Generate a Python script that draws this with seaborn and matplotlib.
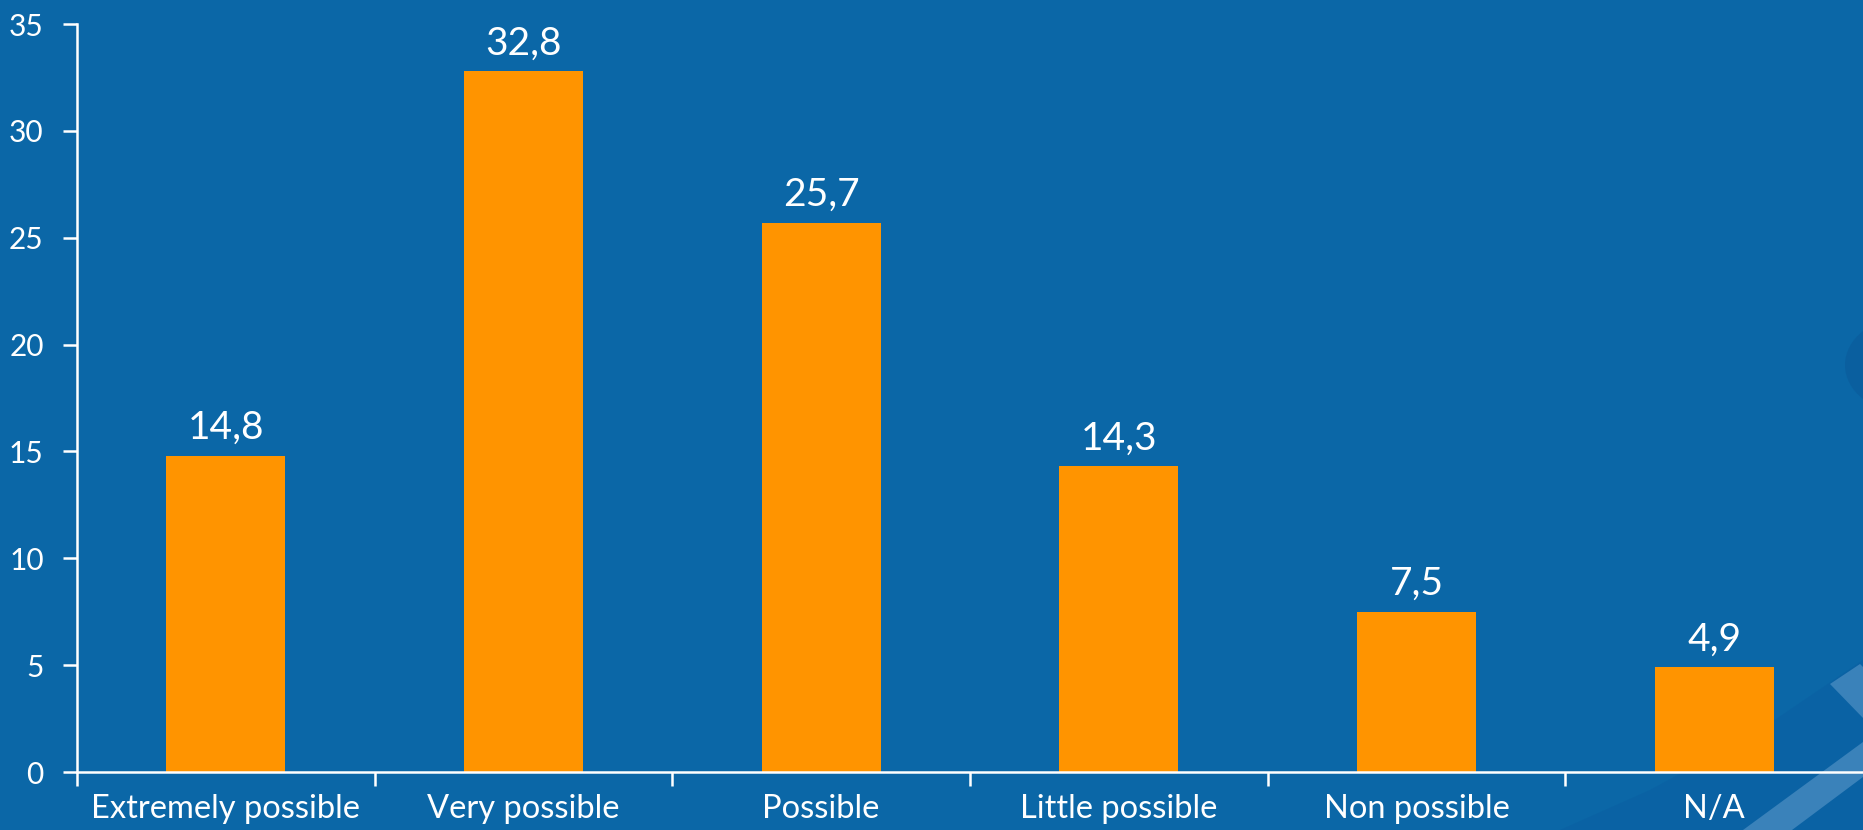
import matplotlib
matplotlib.use("Agg")
import matplotlib.pyplot as plt
import seaborn as sns
import pandas as pd
from matplotlib.patches import Ellipse, Polygon

categories = ["Extremely possible", "Very possible", "Possible", "Little possible", "Non possible", "N/A"]
values = [14.8, 32.8, 25.7, 14.3, 7.5, 4.9]
yticks = [0, 5, 10, 15, 20, 25, 30, 35]

BG = "#0B67A7"
BAR = "#FF9400"
WHITE = "#FFFFFF"

sns.set_style("white")
plt.rcParams["font.family"] = ["Lato", "DejaVu Sans"]

fig = plt.figure(figsize=(18.63, 8.30), dpi=100, facecolor=BG)

# decorative background shapes (bottom right / right edge)
deco = fig.add_axes([0, 0, 1, 1], zorder=0)
deco.set_xlim(0, 1863)
deco.set_ylim(830, 0)
deco.axis("off")
deco.add_patch(Polygon([(1560, 830), (1650, 790), (1760, 730), (1863, 660), (1863, 830)],
                       closed=True, facecolor="#0A62A4", edgecolor="none"))
deco.add_patch(Polygon([(1743, 830), (1792, 830), (1863, 777), (1863, 742)],
                       closed=True, facecolor="#3A82BA", edgecolor="none"))
deco.add_patch(Polygon([(1830, 684), (1860, 664), (1863, 667), (1863, 718)],
                       closed=True, facecolor="#3A82BA", edgecolor="none"))
deco.add_patch(Ellipse((1905, 365), 120, 95, facecolor="#0A5F9F", edgecolor="none"))

ax = fig.add_axes([77 / 1863, (830 - 772) / 830, 1 - 77 / 1863, (772 - 24) / 830], zorder=1)
ax.set_facecolor("none")

df = pd.DataFrame({"category": categories, "value": values})
sns.barplot(data=df, x="category", y="value", color=BAR, width=0.4, saturation=1,
            linewidth=0, edgecolor="none", ax=ax, zorder=2)

ax.set_xlim(-0.5, len(categories) - 0.5)
ax.set_ylim(0, 35)
ax.set_yticks(yticks)
ax.set_yticklabels([str(t) for t in yticks])
ax.set_xlabel("")
ax.set_ylabel("")

for i, v in enumerate(values):
    ax.annotate(f"{v:.1f}".replace(".", ","), xy=(i, v), xytext=(0, 12), textcoords="offset points",
                ha="center", va="baseline", color=WHITE, fontsize=28)

for s in ["top", "right"]:
    ax.spines[s].set_visible(False)
for s in ["left", "bottom"]:
    ax.spines[s].set_color(WHITE)
    ax.spines[s].set_linewidth(1.8)

ax.tick_params(axis="y", colors=WHITE, labelsize=21.5, length=10, width=1.8, pad=14, direction="out", left=True)
ax.tick_params(axis="x", which="major", colors=WHITE, labelsize=23.5, length=0, pad=16)
ax.set_xticks([i - 0.5 for i in range(len(categories))], minor=True)
ax.tick_params(axis="x", which="minor", colors=WHITE, length=10, width=1.8, direction="out", bottom=True)

fig.savefig("out.png", dpi=100, facecolor=BG)
